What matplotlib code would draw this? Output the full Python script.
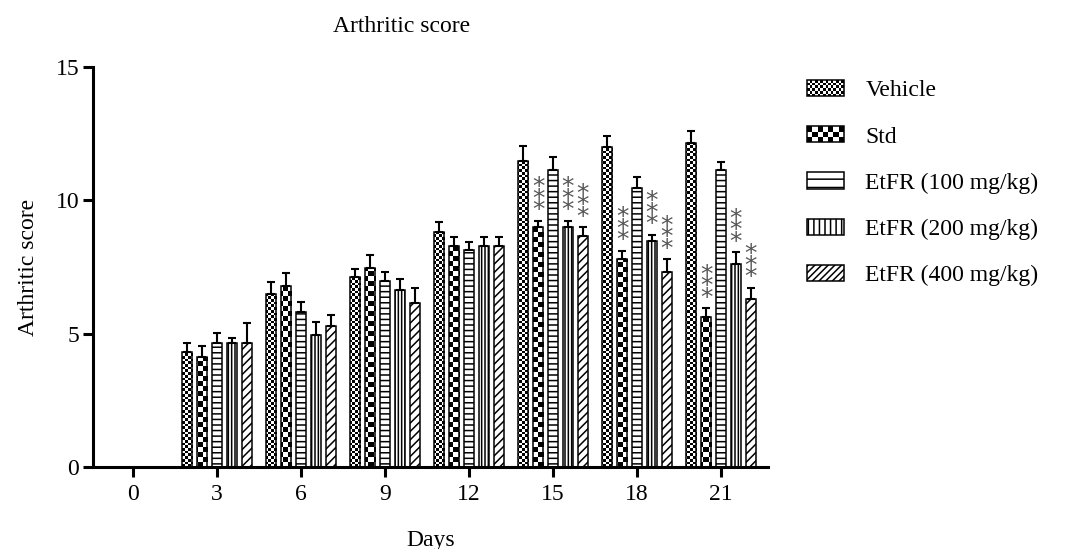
import numpy as np
import matplotlib
matplotlib.use('Agg')
import matplotlib.pyplot as plt
from matplotlib.patches import Rectangle
from matplotlib.legend_handler import HandlerBase

plt.rcParams['font.family'] = ['Liberation Serif', 'DejaVu Serif']
plt.rcParams['hatch.linewidth'] = 1.1

# ==============================
# data
# ==============================

days = [0, 3, 6, 9, 12, 15, 18, 21]
groups = ['Vehicle', 'Std', 'EtFR (100 mg/kg)', 'EtFR (200 mg/kg)', 'EtFR (400 mg/kg)']

vehicle = [0, 4.30, 6.47, 7.14, 8.80, 11.49, 11.99, 12.14]
vehicle_err = [0, 0.35, 0.48, 0.30, 0.40, 0.56, 0.43, 0.47]
std = [0, 4.13, 6.80, 7.47, 8.30, 8.99, 7.80, 5.61]
std_err = [0, 0.42, 0.46, 0.48, 0.34, 0.25, 0.31, 0.34]
etfr100 = [0, 4.64, 5.80, 6.96, 8.14, 11.14, 10.47, 11.14]
etfr100_err = [0, 0.40, 0.40, 0.36, 0.31, 0.47, 0.42, 0.31]
etfr200 = [0, 4.64, 4.96, 6.64, 8.30, 8.99, 8.47, 7.62]
etfr200_err = [0, 0.18, 0.46, 0.41, 0.34, 0.25, 0.23, 0.43]
etfr400 = [0, 4.64, 5.30, 6.14, 8.30, 8.66, 7.30, 6.29]
etfr400_err = [0, 0.75, 0.41, 0.58, 0.34, 0.33, 0.49, 0.43]

# *** p < 0.001 vs vehicle
std_sig = [0, 0, 0, 0, 0, 1, 1, 1]
etfr200_sig = [0, 0, 0, 0, 0, 1, 1, 1]
etfr400_sig = [0, 0, 0, 0, 0, 1, 1, 1]
no_sig = [0] * len(days)

series = [
    (vehicle, vehicle_err, no_sig),
    (std, std_err, std_sig),
    (etfr100, etfr100_err, no_sig),
    (etfr200, etfr200_err, etfr200_sig),
    (etfr400, etfr400_err, etfr400_sig),
]

# ==============================
# styles
# ==============================

# checker size in pixels (None -> plain hatch)
checker_px = [2.7, 5.0, None, None, None]
hatches = [None, None, '---', '|||||', '////']
legend_checker = [(14, 6), (7, 3), None, None, None]
legend_hatch = [None, None, '--', '|||', '/////']

BAR_W = 0.36
STEP = 0.53
XLIM = (-1.43, 22.68)
YLIM = (0, 15)
FS = 17


class CheckerHandler(HandlerBase):
    """Legend handle drawn as a small checkerboard."""

    def __init__(self, ncols, nrows):
        super().__init__()
        self.ncols = ncols
        self.nrows = nrows

    def create_artists(self, legend, orig_handle, xdescent, ydescent,
                       width, height, fontsize, trans):
        arts = []
        cw = width / self.ncols
        ch = height / self.nrows
        for r in range(self.nrows):
            for c in range(self.ncols):
                if (r + c) % 2 == 0:
                    arts.append(Rectangle((-xdescent + c * cw, -ydescent + r * ch), cw, ch,
                                          facecolor='black', edgecolor='none', transform=trans))
        arts.append(Rectangle((-xdescent, -ydescent), width, height, facecolor='none',
                              edgecolor='black', linewidth=1.1, transform=trans))
        return arts


fig = plt.figure(figsize=(10.74, 5.49), dpi=100)
ax = fig.add_axes([93 / 1074, 1 - 467 / 549, 675 / 1074, 400 / 549])
ax.set_xlim(*XLIM)
ax.set_ylim(*YLIM)

ax_w_px = 675
ax_h_px = 400
x = np.array(days, dtype=float)
handles = []

for i, (vals, errs, sig) in enumerate(series):
    vals = np.array(vals)
    errs = np.array(errs)
    xpos = x + (i - 2) * STEP
    if checker_px[i] is None:
        bars = ax.bar(xpos, vals, BAR_W, facecolor='white', edgecolor='black',
                      linewidth=1.1, hatch=hatches[i], zorder=2)
        handles.append(Rectangle((0, 0), 1, 1, facecolor='white', edgecolor='black',
                                 linewidth=1.1, hatch=legend_hatch[i]))
    else:
        bars = ax.bar(xpos, vals, BAR_W, facecolor='none', edgecolor='black',
                      linewidth=1.1, zorder=2)
        ncol = int(round(ax_w_px / checker_px[i]))
        nrow = int(round(ax_h_px / checker_px[i]))
        board = np.indices((nrow, ncol)).sum(axis=0) % 2
        for b in bars:
            if b.get_height() <= 0:
                continue
            im = ax.imshow(board, cmap='gray', vmin=0, vmax=1, extent=(*XLIM, *YLIM),
                           aspect='auto', interpolation='nearest', zorder=1.5)
            im.set_clip_path(b)
        handles.append(Rectangle((0, 0), 1, 1, facecolor='none', edgecolor='black'))

    m = vals > 0
    ax.errorbar(xpos[m], vals[m], yerr=[np.zeros(m.sum()), errs[m]], fmt='none',
                ecolor='black', elinewidth=1.5, capsize=2.8, capthick=1.5, zorder=3)

    # significance stars stacked above the error bar
    for xp, v, e, s in zip(xpos, vals, errs, sig):
        if not s:
            continue
        ax.annotate('*\n*\n*', xy=(xp, v + e), xytext=(0, -1), textcoords='offset points',
                    ha='center', va='bottom', fontsize=18, color='#555555',
                    family='DejaVu Sans', linespacing=0.34)

ax.set_ylim(*YLIM)
ax.set_xlim(*XLIM)

# axes styling (GraphPad look)
for side in ['top', 'right']:
    ax.spines[side].set_visible(False)
for side in ['left', 'bottom']:
    ax.spines[side].set_linewidth(2.2)
ax.tick_params(direction='out', length=7, width=2.2, labelsize=FS, pad=3)
ax.set_xticks(days)
ax.set_yticks([0, 5, 10, 15])
ax.tick_params(axis='x', pad=5)

ax.set_xlabel('Days', fontsize=FS, labelpad=18)
ax.set_ylabel('Arthritic score', fontsize=FS, labelpad=12)
fig.text(402 / 1074, 1 - 26 / 549, 'Arthritic score', fontsize=FS, ha='center', va='center')

hmap = {}
for i, h in enumerate(handles):
    if legend_checker[i] is not None:
        hmap[h] = CheckerHandler(*legend_checker[i])

fig.legend(handles, groups, handler_map=hmap, loc='upper left',
           bbox_to_anchor=(807 / 1074, 1 - 80 / 549), frameon=False, fontsize=FS,
           handlelength=1.57, handleheight=0.68, handletextpad=0.9, labelspacing=1.05,
           borderpad=0, borderaxespad=0)

fig.savefig('out.png', dpi=100)
